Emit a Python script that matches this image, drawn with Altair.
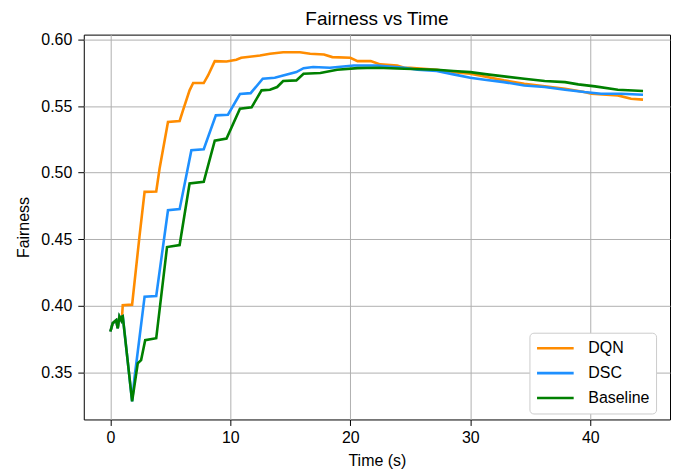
import altair as alt
import pandas as pd

series_names = ["DQN", "DSC", "Baseline"]
series_colors = ["#FF8C00", "#1E90FF", "#008000"]

start_t = [0.0, 0.19, 0.48, 0.61, 0.75, 0.9, 0.97]
start_v = [0.3805, 0.3868, 0.389, 0.383, 0.3917, 0.389, 0.3917]

dqn_t = start_t + [1.03, 1.81, 2.42, 2.85, 3.82, 4.1, 4.8, 5.77, 6.05, 6.6, 6.9, 7.78, 8.14, 8.7,
                   9.68, 10.5, 10.9, 12.47, 13.3, 14.4, 15.8, 16.65, 17.8, 18.5, 20.0, 20.6, 21.7,
                   22.5, 23.9, 24.5, 25.0, 27.2, 28.6, 30.0, 31.4, 32.8, 34.5, 36.2, 37.9, 39.5,
                   40.1, 42.3, 43.4, 44.4]
dqn_v = start_v + [0.4003, 0.4007, 0.4517, 0.4855, 0.4858, 0.503, 0.538, 0.5388, 0.5468, 0.5618,
                   0.5673, 0.5673, 0.573, 0.5838, 0.5835, 0.5848, 0.5863, 0.588, 0.5893, 0.5905,
                   0.5905, 0.5893, 0.5888, 0.5868, 0.5863, 0.5838, 0.5838, 0.5813, 0.5805, 0.5788,
                   0.5788, 0.5773, 0.5755, 0.5743, 0.5718, 0.5693, 0.5668, 0.5648, 0.563, 0.5605,
                   0.5593, 0.558, 0.5555, 0.5548]

dsc_t = start_t + [1.03, 1.81, 2.0, 2.85, 3.82, 4.8, 5.77, 6.75, 7.78, 8.79, 9.8, 10.8, 11.69,
                   12.7, 13.7, 14.4, 15.5, 16.1, 16.9, 18.3, 20.3, 22.2, 24.5, 25.6, 27.2, 28.6,
                   30.0, 31.2, 32.8, 34.5, 36.2, 37.9, 39.5, 40.9, 42.6, 44.4]
dsc_v = start_v + [0.392, 0.328, 0.345, 0.4067, 0.4072, 0.4717, 0.4725, 0.5168, 0.5175, 0.543,
                   0.5435, 0.559, 0.5597, 0.5705, 0.5713, 0.573, 0.5755, 0.5785, 0.5793, 0.5788,
                   0.5805, 0.5805, 0.5788, 0.5773, 0.5763, 0.5738, 0.5713, 0.5698, 0.568, 0.5655,
                   0.5643, 0.5623, 0.5605, 0.5593, 0.5593, 0.5585]

base_t = start_t + [1.03, 1.81, 2.28, 2.56, 2.9, 3.82, 4.72, 5.77, 6.6, 7.78, 8.7, 9.68, 10.8,
                    11.77, 12.6, 13.3, 13.9, 14.4, 15.5, 16.1, 17.5, 18.9, 20.6, 22.2, 24.5, 27.2,
                    28.6, 30.0, 31.4, 32.8, 34.5, 36.2, 37.9, 39.0, 40.4, 42.3, 44.4]
base_v = start_v + [0.392, 0.328, 0.3567, 0.359, 0.374, 0.3755, 0.444, 0.4455, 0.4918, 0.493,
                    0.524, 0.5255, 0.548, 0.549, 0.5618, 0.5623, 0.5643, 0.5688, 0.5693, 0.5743,
                    0.5748, 0.5773, 0.5785, 0.5788, 0.578, 0.5773, 0.5763, 0.5755, 0.5738, 0.5723,
                    0.5705, 0.5688, 0.568, 0.5663, 0.5648, 0.5623, 0.5613]

x_ticks = [0, 10, 20, 30, 40]
y_ticks = [0.35, 0.40, 0.45, 0.50, 0.55, 0.60]

rows = []
for name, ts, vs in [("DQN", dqn_t, dqn_v), ("DSC", dsc_t, dsc_v), ("Baseline", base_t, base_v)]:
    for i, (t, v) in enumerate(zip(ts, vs)):
        rows.append({"series": name, "time": t, "fairness": v, "idx": i})
df = pd.DataFrame(rows)

FONT = "Liberation Sans"

chart = alt.Chart(df).mark_line(strokeWidth=2.6, clip=True).encode(
    x=alt.X("time:Q", title="Time (s)",
            scale=alt.Scale(domain=[-2.22, 46.65], nice=False, zero=False),
            axis=alt.Axis(values=x_ticks, format="d")),
    y=alt.Y("fairness:Q", title="Fairness",
            scale=alt.Scale(domain=[0.3144, 0.6037], nice=False, zero=False),
            axis=alt.Axis(values=y_ticks, format=".2f")),
    color=alt.Color("series:N", title=None,
                    scale=alt.Scale(domain=series_names, range=series_colors),
                    legend=alt.Legend(orient="none", legendX=447, legendY=299,
                                      symbolType="stroke",
                                      symbolSize=1350, symbolStrokeWidth=2.6,
                                      labelFontSize=16, labelFont=FONT, labelColor="black",
                                      padding=6, rowPadding=6, labelOffset=13, clipHeight=19,
                                      strokeColor="#cccccc", fillColor="white",
                                      cornerRadius=4)),
    order=alt.Order("idx:Q"),
).properties(
    width=588, height=386,
    title=alt.TitleParams("Fairness vs Time", fontSize=19, font=FONT, fontWeight="normal",
                          color="black", offset=3),
    autosize=alt.AutoSizeParams(type="none"),
    padding={"left": 76, "top": 26, "right": 5, "bottom": 50},
).configure_view(
    stroke="black", strokeWidth=1
).configure_axis(
    grid=True, gridColor="#b0b0b0", gridWidth=1,
    domain=False, tickColor="black", tickSize=6, tickWidth=1,
    labelFont=FONT, labelFontSize=16, labelColor="black",
    titleFont=FONT, titleFontSize=16, titleColor="black", titleFontWeight="normal",
).configure_axisX(labelPadding=4, titlePadding=7).configure_axisY(labelPadding=6, titlePadding=9)

chart.save("out.html", embed_options={"renderer": "svg", "actions": False})
